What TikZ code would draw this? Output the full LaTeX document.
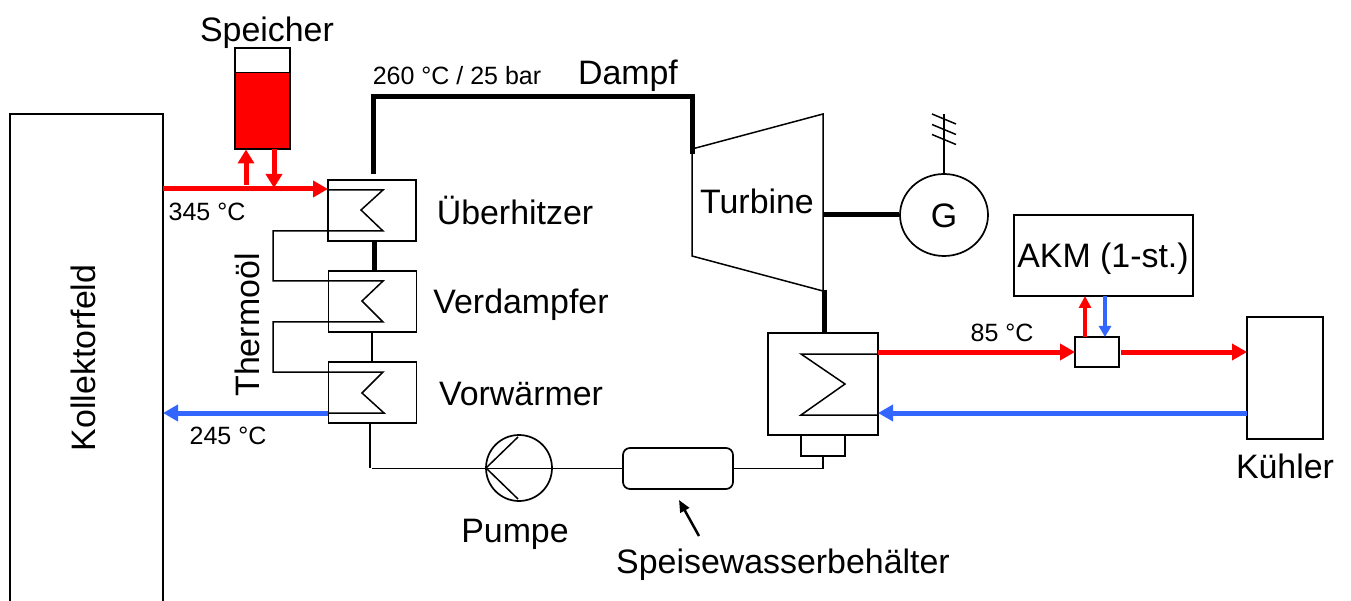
\documentclass[tikz,border=0pt]{standalone}
\usepackage{fontspec}
\setmainfont{Liberation Sans}
\usetikzlibrary{arrows.meta,calc,shapes.geometric}
\definecolor{hotred}{RGB}{255,0,0}
\definecolor{coldblue}{RGB}{51,102,255}
\newcommand{\fbig}{\fontsize{33.9}{36}\selectfont}
\newcommand{\fsmall}{\fontsize{25}{28}\selectfont}
\tikzset{
  unit/.style={draw=black,line width=1.7pt,fill=white,inner sep=0pt,outer sep=0pt,minimum width=#1},
  thinpipe/.style={draw=black,line width=1.5pt,line join=miter},
  shaftline/.style={draw=black,line width=5pt},
  hotpipe/.style={draw=hotred,line width=5pt,-{Triangle[length=15pt,width=16pt]}},
  coldpipe/.style={draw=coldblue,line width=5pt,-{Triangle[length=15pt,width=16pt]}},
  hotthin/.style={draw=hotred,line width=4pt,-{Triangle[length=12pt,width=12pt]}},
  coldthin/.style={draw=coldblue,line width=3.5pt,-{Triangle[length=11pt,width=12pt]}},
  biglabel/.style={font=\fbig,text=black,inner sep=0pt},
  smalllabel/.style={font=\fsmall,text=black,inner sep=0pt},
}
\begin{document}
\begin{tikzpicture}[x=1pt,y=-1pt]
\useasboundingbox (0,0) rectangle (1351,601);
% collector field (open at the bottom)
\draw[thinpipe] (10,601) -- (10,114) -- (163,114) -- (163,601);
\coordinate (kolHot) at (163,189);
\coordinate (kolCold) at (163,413);
\node[biglabel,rotate=90] (kollabel) at (83,358) {Kollektorfeld};
% storage
\node[unit=55pt,minimum height=101pt] (speicher) at (262.5,98.5) {};
\fill[hotred] (235,72.5) rectangle (290,149);
\draw[line width=1.7pt] (235,48) rectangle (290,149) (235,72.5) -- (290,72.5);
\node[biglabel] (speicherlabel) at (267,33) {Speicher};
% heat exchangers
\node[unit=88pt,minimum height=61pt] (ue) at (372,210.5) {};
\node[unit=88pt,minimum height=61pt] (ve) at (372.5,301.5) {};
\node[unit=88pt,minimum height=61pt] (vo) at (372.5,392.5) {};
\coordinate (ueIn) at (328,189);
\coordinate (voOut) at (328,413);
% hot oil line
\draw[hotpipe] (kolHot) -- (ueIn);
\draw[hotthin,line width=5pt,-{Triangle[length=14pt,width=16pt]}] (246,185) -- (246,149.5);
\draw[hotthin,line width=5pt,-{Triangle[length=14pt,width=16pt]}] (274,149.5) -- (274,188);
\draw[coldpipe] (voOut) -- (kolCold);
% oil coil
\draw[thinpipe] (328,190) -- (383,190) -- (361,210) -- (383,231) -- (273,231) -- (273,281) -- (383,281) -- (362,301) -- (383,322) -- (273,322) -- (273,372) -- (383,372) -- (362,393) -- (384,413) -- (voOut);
% steam path
\coordinate (turbIn) at (692,154);
\draw[shaftline,line join=miter] (373,174) -- (373,96.5) -- (692,96.5) -- (turbIn);
\draw[shaftline] (ue.south -| 374,0) -- (ve.north -| 374,0);
\draw[thinpipe] (ve.south -| 372,0) -- (vo.north -| 372,0);
% turbine
\coordinate (tl) at (692,149); \coordinate (tr) at (823,114);
\coordinate (br) at (823,291); \coordinate (bl) at (692,256);
\draw[thinpipe] (tl) -- (tr) -- (br) -- (bl) -- cycle;
\node[biglabel] (turblabel) at (757,201) {Turbine};
% generator
\node[draw=black,line width=1.7pt,ellipse,inner sep=0pt,minimum width=88pt,minimum height=82pt,fill=white] (gen) at (944,215) {};
\node[biglabel] (genlabel) at (944,216) {G};
\coordinate (shaftL) at (823,215);
\draw[shaftline] (shaftL) -- (gen.west);
\coordinate (gridTop) at (944,114);
\draw[thinpipe] (gen.north) -- (gridTop);
\draw[thinpipe] (932,114) -- (956,124) (932,124.5) -- (956,134.5) (932,134.5) -- (956,144.5);
% condenser
\node[unit=110pt,minimum height=102pt] (kond) at (823,384) {};
\node[unit=44pt,minimum height=21pt] (hotwell) at (823,445.5) {};
\coordinate (turbOut) at (824,290);
\draw[shaftline] (turbOut) -- (kond.north -| 824,0);
\coordinate (kondHot) at (878,352);
\coordinate (kondCold) at (878,415);
\draw[thinpipe] (878,354) -- (801,354) -- (845,384) -- (801,415) -- (878,415);
% feed line
\node[draw=black,line width=1.7pt,circle,inner sep=0pt,minimum size=66pt] (pumpe) at (519,468) {};
\node[draw=black,line width=1.7pt,rounded corners=7pt,inner sep=0pt,minimum width=110pt,minimum height=41pt] (behaelter) at (678,468.5) {};
\coordinate (feedA) at (372,468.5);
\draw[thinpipe] (vo.south -| 370,0) -- (370,468);
\draw[thinpipe] (feedA) -- (behaelter.west);
\draw[thinpipe] (behaelter.east) -- (823,468.5) -- (hotwell.south);
\coordinate (pumpA) at (486,468);
\draw[thinpipe] (518,437) -- (pumpA) -- (518,499);
% coupling box, AKM, cooler
\node[unit=44pt,minimum height=30pt] (koppel) at (1097,352) {};
\node[unit=179pt,minimum height=81pt] (akm) at (1103.5,255.5) {};
\node[unit=76pt,minimum height=122pt] (kuehler) at (1285,378) {};
\draw[hotpipe] (kondHot) -- (koppel.west);
\coordinate (koppelOut) at (1121,352);
\draw[hotpipe] (koppelOut) -- (kuehler.west |- koppelOut);
\draw[coldpipe] (kuehler.west |- 0,413) -- (878,413);
\draw[hotthin] (koppel.north -| 1085,0) -- (akm.south -| 1085,0);
\draw[coldthin] (akm.south -| 1105,0) -- (koppel.north -| 1105,0);
% pointer
\coordinate (pointTail) at (699,536);
\coordinate (pointTip) at (679,500);
\draw[draw=black,line width=2.5pt,-{Triangle[length=12pt,width=10pt]}] (pointTail) -- (pointTip);
% labels
\node[smalllabel] (l260) at (457,75.5) {260 °C / 25 bar};
\node[biglabel] (ldampf) at (628,75.5) {Dampf};
\node[smalllabel] (l345) at (207,212) {345 °C};
\node[smalllabel] (l245) at (228,436) {245 °C};
\node[smalllabel] (l85) at (1002,333) {85 °C};
\node[biglabel] (lue) at (515,210.5) {Überhitzer};
\node[biglabel] (lve) at (521,305) {Verdampfer};
\node[biglabel] (lvo) at (521,394) {Vorwärmer};
\node[biglabel,rotate=90] (lthermo) at (247,325) {Thermoöl};
\node[biglabel] (lakm) at (1103,259) {AKM (1-st.)};
\node[biglabel] (lkue) at (1285,466) {Kühler};
\node[biglabel] (lpu) at (515,534) {Pumpe};
\node[biglabel] (lsp) at (783,565) {Speisewasserbehälter};
\end{tikzpicture}
\end{document}
